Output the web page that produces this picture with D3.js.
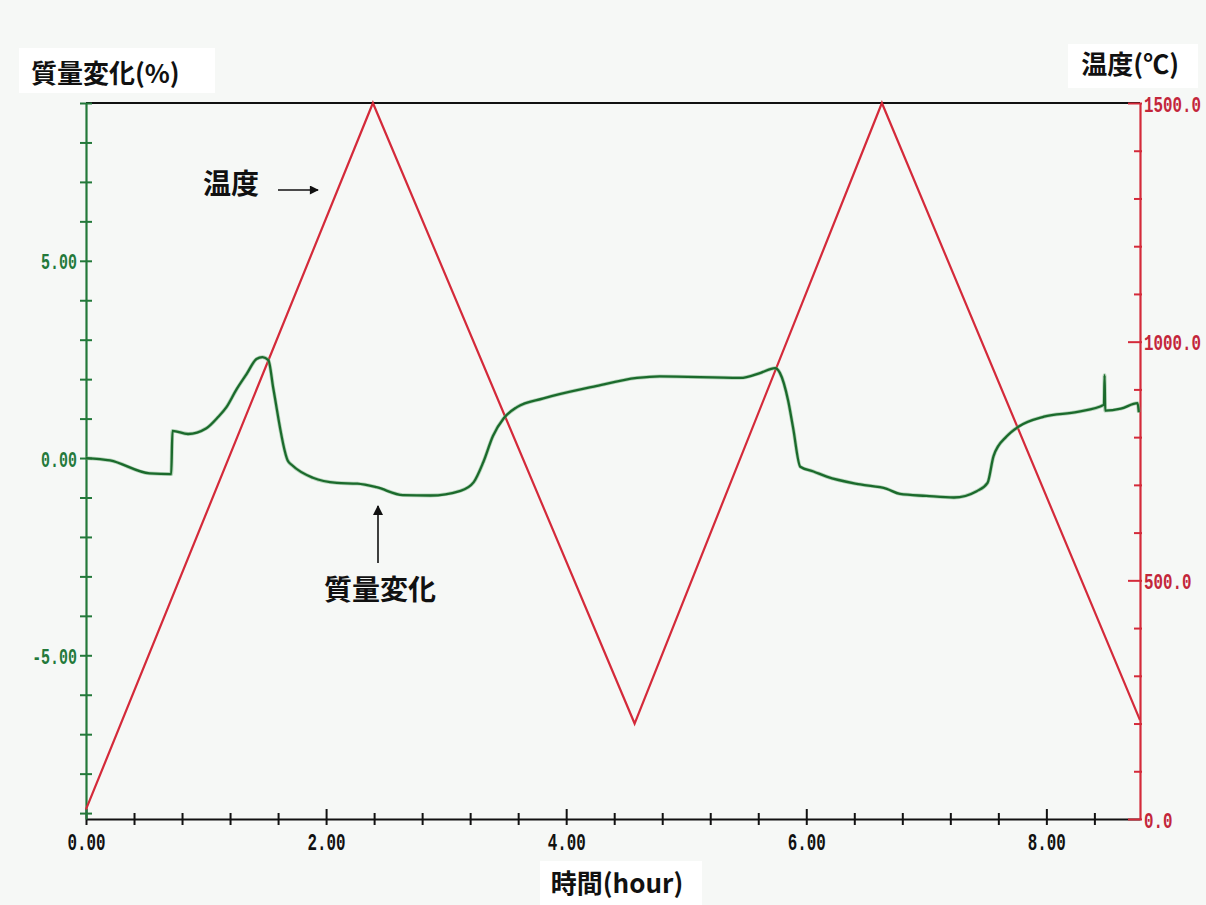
<!DOCTYPE html>
<html>
<head>
<meta charset="utf-8">
<script src="https://cdn.jsdelivr.net/npm/d3@7"></script>
<style>
  html, body { margin: 0; padding: 0; background: #f6f8f6; }
  svg { display: block; }
</style>
</head>
<body>
<svg id="chart" width="1206" height="905"></svg>
<script>
// ---------- data ----------
const timeTicks = d3.range(0, 22).map(i => +(i * 0.4).toFixed(1));   // hours
const timeLabels = [0, 2, 4, 6, 8];
const massTicks = d3.range(-9, 10);
const massLabels = [-5, 0, 5];
const tempTicks = d3.range(0, 1600, 100);
const tempLabels = [0, 500, 1000, 1500];

// temperature profile (hour, °C)
const tempTime = [0, 2.39, 4.57, 6.63, 8.78];
const tempC    = [20, 1500, 200, 1500, 207];

// mass change (hour, %)
const massTime = [0, 0.2, 0.53, 0.71, 0.72, 0.85, 1.0, 1.1, 1.17, 1.25, 1.34, 1.42, 1.47, 1.52, 1.56,
  1.68, 1.72, 1.89, 2.09, 2.26, 2.42, 2.64, 2.87, 3.12, 3.23, 3.31, 3.39, 3.48, 3.59, 3.81,
  4.23, 4.59, 4.78, 5.45, 5.62, 5.74, 5.78, 5.85, 5.89, 5.95, 6.06, 6.17, 6.45, 6.67, 6.78,
  7.0, 7.23, 7.42, 7.51, 7.56, 7.67, 7.77, 7.98, 8.26, 8.48, 8.485, 8.49, 8.62, 8.76, 8.77];
const massPct  = [0, -0.06, -0.39, -0.41, 0.69, 0.61, 0.75, 1.04, 1.29, 1.72, 2.14, 2.51, 2.56, 2.48, 1.77,
  -0.06, -0.19, -0.5, -0.63, -0.65, -0.74, -0.94, -0.95, -0.83, -0.61, -0.1, 0.56, 1.01, 1.29, 1.51,
  1.81, 2.03, 2.07, 2.03, 2.16, 2.28, 2.16, 1.44, 0.77, -0.22, -0.34, -0.47, -0.67, -0.78, -0.91,
  -0.96, -1.0, -0.84, -0.63, 0.05, 0.55, 0.8, 1.05, 1.17, 1.35, 2.1, 1.2, 1.25, 1.39, 1.16];

// ---------- layout ----------
const L = 86, R = 1140, T = 103, B = 819;
const GREEN = "#23793a", GREEN_LINE = "#1b6a2c", RED = "#d42a3a", RED_TXT = "#c3263a";
const CJK = "'Noto Sans CJK JP', 'Noto Sans', sans-serif";
const MONO = "'Liberation Mono', 'DejaVu Sans Mono', monospace";

const svg = d3.select("#chart");
const x = d3.scaleLinear([0, 8.78], [L, R]);
const yM = d3.scaleLinear([-9.15, 9], [B, T]);
const yT = d3.scaleLinear([0, 1500], [B, T]);

// top frame line
svg.append("line").attr("x1", L).attr("x2", R).attr("y1", T).attr("y2", T)
  .attr("stroke", "#111").attr("stroke-width", 2);

function styleTickText(sel, color, size, dx, dy, sx) {
  sel.attr("x", 0).attr("y", 0).attr("dy", dy).attr("fill", color)
    .attr("font-family", MONO).attr("font-weight", "bold").attr("font-size", size)
    .attr("transform", `translate(${dx},0) scale(${sx},1)`);
}

// ---------- bottom axis ----------
const gx = svg.append("g").attr("transform", `translate(0,${B})`)
  .call(d3.axisBottom(x).tickValues(timeTicks).tickSizeOuter(0)
    .tickFormat(d => timeLabels.includes(d) ? d.toFixed(2) : ""));
gx.select(".domain").attr("stroke", "#111").attr("stroke-width", 2.2);
gx.selectAll(".tick line").attr("stroke", "#111").attr("stroke-width", 2)
  .attr("y1", d => timeLabels.includes(d) ? -10 : -6).attr("y2", 6);
styleTickText(gx.selectAll(".tick text"), "#111", 24, 0, 31, 0.66);

// ---------- left axis (mass) ----------
const gy = svg.append("g").attr("transform", `translate(${L},0)`)
  .call(d3.axisLeft(yM).tickValues(massTicks).tickSizeOuter(0)
    .tickFormat(d => massLabels.includes(d) ? d.toFixed(2) : ""));
gy.select(".domain").attr("stroke", GREEN).attr("stroke-width", 2.2);
gy.selectAll(".tick line").attr("stroke", GREEN).attr("stroke-width", 2)
  .attr("x1", -6).attr("x2", 6);
styleTickText(gy.selectAll(".tick text"), GREEN, 22, -9, 8, 0.68);

// ---------- right axis (temperature) ----------
const gr = svg.append("g").attr("transform", `translate(${R},0)`)
  .call(d3.axisRight(yT).tickValues(tempTicks).tickSizeOuter(0)
    .tickFormat(d => tempLabels.includes(d) ? d.toFixed(1) : ""));
gr.select(".domain").attr("stroke", RED).attr("stroke-width", 2.2);
gr.selectAll(".tick line").attr("stroke", RED).attr("stroke-width", 2)
  .attr("x1", d => tempLabels.includes(d) ? -12 : -6).attr("x2", 2);
styleTickText(gr.selectAll(".tick text"), RED_TXT, 22, 4, 8, 0.72);

// ---------- series ----------
const tempData = tempTime.map((t, i) => [t, tempC[i]]);
svg.append("path").datum(tempData)
  .attr("fill", "none").attr("stroke", RED).attr("stroke-width", 2.2)
  .attr("d", d3.line().x(d => x(d[0])).y(d => yT(d[1])));

const massData = massTime.map((t, i) => [t, massPct[i]]);
const massLine = d3.line().x(d => x(d[0])).y(d => yM(d[1])).curve(d3.curveMonotoneX);
svg.append("path").datum(massData)
  .attr("fill", "none").attr("stroke", "#6fb07a").attr("stroke-width", 3.8).attr("opacity", 0.5)
  .attr("d", massLine);
svg.append("path").datum(massData)
  .attr("fill", "none").attr("stroke", GREEN_LINE).attr("stroke-width", 2.3)
  .attr("d", massLine);

// ---------- titles ----------
function boxedText(txt, bx, by, bw, bh, tx, ty, anchor) {
  svg.append("rect").attr("x", bx).attr("y", by).attr("width", bw).attr("height", bh).attr("fill", "#ffffff");
  svg.append("text").attr("x", tx).attr("y", ty).attr("text-anchor", anchor)
    .attr("font-family", CJK).attr("font-weight", "bold").attr("font-size", 26).attr("fill", "#111")
    .text(txt);
}
boxedText("質量変化(%)", 19, 48, 196, 45, 31, 83, "start");
boxedText("温度(℃)", 1068, 44, 130, 44, 1179, 74, "end");
boxedText("時間(hour)", 540, 861, 162, 44, 617, 893, "middle");

// ---------- annotations ----------
const defs = svg.append("defs");
defs.append("marker").attr("id", "arr").attr("viewBox", "0 0 10 10")
  .attr("refX", 9).attr("refY", 5).attr("markerWidth", 10).attr("markerHeight", 9)
  .attr("markerUnits", "userSpaceOnUse").attr("orient", "auto")
  .append("path").attr("d", "M0,0 L10,5 L0,10 z").attr("fill", "#111");
defs.append("marker").attr("id", "arr2").attr("viewBox", "0 0 10 10")
  .attr("refX", 9).attr("refY", 5).attr("markerWidth", 12).attr("markerHeight", 10)
  .attr("markerUnits", "userSpaceOnUse").attr("orient", "auto")
  .append("path").attr("d", "M0,0 L10,5 L0,10 z").attr("fill", "#111");

svg.append("text").attr("x", 203).attr("y", 194)
  .attr("font-family", CJK).attr("font-weight", "bold").attr("font-size", 28).attr("fill", "#111")
  .text("温度");
svg.append("line").attr("x1", 278).attr("y1", 190).attr("x2", 318).attr("y2", 190)
  .attr("stroke", "#111").attr("stroke-width", 1.6).attr("marker-end", "url(#arr)");

svg.append("text").attr("x", 380).attr("y", 600).attr("text-anchor", "middle")
  .attr("font-family", CJK).attr("font-weight", "bold").attr("font-size", 28).attr("fill", "#111")
  .text("質量変化");
svg.append("line").attr("x1", 378).attr("y1", 563).attr("x2", 378).attr("y2", 506)
  .attr("stroke", "#111").attr("stroke-width", 1.6).attr("marker-end", "url(#arr2)");
</script>
</body>
</html>
